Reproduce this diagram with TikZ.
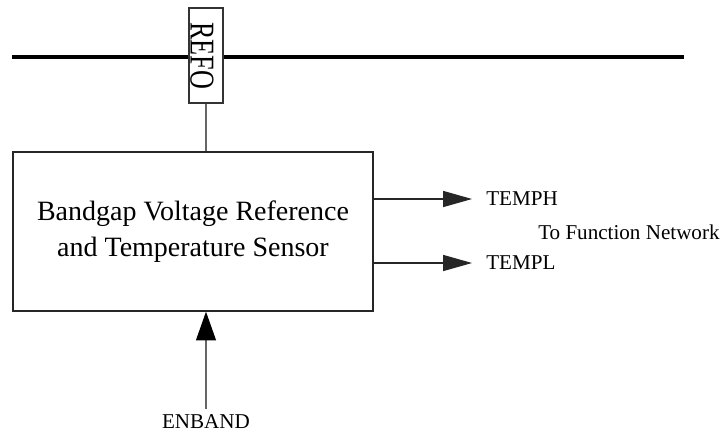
\documentclass[tikz,border=0pt]{standalone}
\usepackage{fontspec}
\setmainfont{Liberation Serif}
\usepackage{graphicx}
\usetikzlibrary{arrows.meta, positioning}

\begin{document}
\begin{tikzpicture}[
  x=0.025cm, y=-0.025cm,
  block/.style={draw=black!85, line width=0.9pt, fill=white, minimum width=9cm, minimum height=3.975cm, align=center, font=\fontsize{19.9}{26}\selectfont},
  tag/.style={draw=black!80, line width=0.8pt, fill=white, minimum width=0.85cm, minimum height=2.375cm, inner sep=0pt},
  pin_label/.style={inner sep=0pt, font=\fontsize{15}{18}\selectfont},
  wire/.style={draw=black!60, line width=0.9pt},
  out_arrow/.style={black!85, line width=0.8pt, -{Triangle[length=0.72cm, width=0.4cm]}},
  in_arrow/.style={black!60, line width=0.9pt, -{Triangle[length=0.72cm, width=0.5cm, black]}}
]
  \useasboundingbox (0,0) rectangle (724,435);

  % Reference bus
  \coordinate (busL) at (12,57);
  \coordinate (busR) at (684,57);
  \draw[line width=2.8pt] (busL) -- (busR);
  \node[tag] (refo) at (206,55.5) {\hspace*{-0.2cm}\rotatebox{-90}{\fontsize{18.6}{20}\selectfont\scalebox{1}[1.33]{REFO}}};

  % Main block
  \node[block] (bandgap) at (193,231.5) {Bandgap Voltage Reference\\and Temperature Sensor};
  \draw[wire] (refo.south) -- (refo.south |- bandgap.north);

  % Outputs
  \node[pin_label, anchor=west] (temph) at (486,199) {TEMPH};
  \node[pin_label, anchor=west] (templ) at (486,263) {TEMPL};
  \node[pin_label, anchor=west] (fnnet) at (538,232) {To Function Network};
  \draw[out_arrow, shorten >=0.35cm] (bandgap.east |- temph.west) -- (temph.west);
  \draw[out_arrow, shorten >=0.35cm] (bandgap.east |- templ.west) -- (templ.west);

  % Enable input
  \node[pin_label] (enband) at (206,422) {ENBAND};
  \draw[in_arrow, shorten <=0.15cm] (enband.north) -- (enband.north |- bandgap.south);

\end{tikzpicture}
\end{document}
